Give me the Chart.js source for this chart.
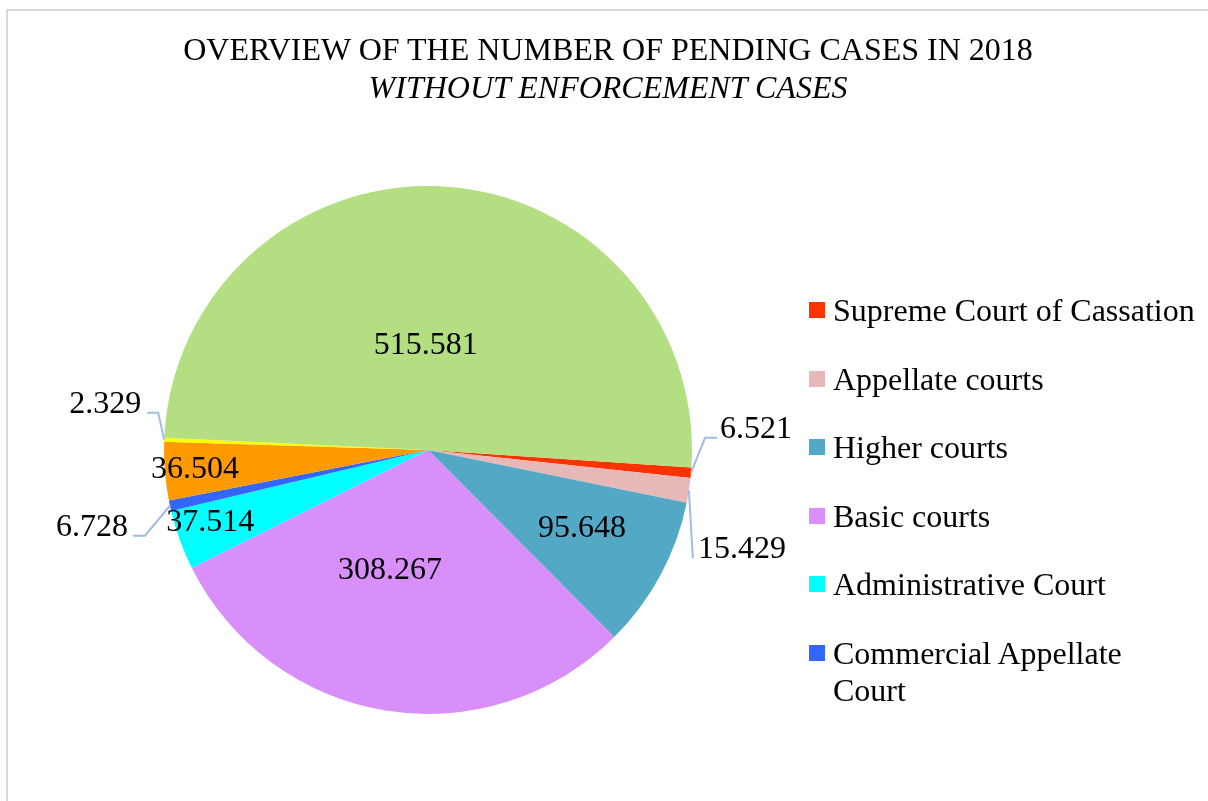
<!DOCTYPE html>
<html><head><meta charset="utf-8">
<script src="https://cdn.jsdelivr.net/npm/chart.js@4.4.1/dist/chart.umd.min.js"></script>
<style>
html,body{margin:0;padding:0;width:1208px;height:801px;overflow:hidden;background:#fff;font-family:"Liberation Serif","Times New Roman",serif;color:#000;}
#frame{position:absolute;left:6px;top:9px;width:1400px;height:1000px;border-left:2px solid #d9d9d9;border-top:2px solid #d9d9d9;}
#chartCanvas{position:absolute;left:0;top:0;}
#title{position:absolute;left:108px;width:1000px;top:31px;text-align:center;font-size:32px;line-height:37.5px;}
#title .sub{font-style:italic;}
#legend{position:absolute;left:809px;top:292px;width:390px;height:425px;overflow:hidden;}
.item{display:flex;align-items:flex-start;margin-bottom:31.5px;font-size:32px;line-height:37px;}
.sw{width:16px;height:16px;flex:none;margin-top:10px;margin-right:8px;}
</style>
</head><body>
<div id="frame"></div>
<canvas id="chartCanvas" width="1208" height="801"></canvas>
<div id="title"></div>
<div id="legend"></div>
<script>
const titleLine = "OVERVIEW OF THE NUMBER OF PENDING CASES IN 2018";
const subtitleLine = "WITHOUT ENFORCEMENT CASES";
const categories = ["Supreme Court of Cassation","Appellate courts","Higher courts","Basic courts","Administrative Court","Commercial Appellate Court","Commercial courts","Misdemeanor Appellate Court","Misdemeanor courts"];
const values = [6521, 15429, 95648, 308267, 37514, 6728, 36504, 2329, 515581];
const colors = ["#ff3300","#e6b9b8","#53a8c5","#d98ff9","#00ffff","#3366ff","#ff9900","#ffff00","#b3de81"];

// label placement: inside (polar from slice mid) or outside with leader line (offsets from arc edge at mid angle)
const labelPlacement = [
  {inside:false, leader:[[14,-35],[26,-35]], text:[65,-45]},
  {inside:false, leader:[[4,68]], text:[53,57]},
  {inside:true, turn:-1.8, r:0.652},
  {inside:true, turn:8.5, r:0.47},
  {inside:true, turn:2.1, r:0.867},
  {inside:false, leader:[[-25,30],[-37,30]], text:[-78,20]},
  {inside:true, turn:0.3, r:0.885},
  {inside:false, leader:[[-6,-27],[-17,-27]], text:[-59,-37]},
  {inside:true, turn:-4.4, r:0.405}
];

function fmt(v){ return String(v).replace(/\B(?=(\d{3})+(?!\d))/g, "."); }

document.getElementById('title').innerHTML = '<div>'+titleLine+'</div><div class="sub">'+subtitleLine+'</div>';
const lg = document.getElementById('legend');
categories.forEach((c,i)=>{
  const it=document.createElement('div'); it.className='item';
  const sw=document.createElement('div'); sw.className='sw'; sw.style.background=colors[i];
  const tx=document.createElement('div'); tx.textContent=c;
  it.appendChild(sw); it.appendChild(tx); lg.appendChild(it);
});

const FONT_PX = 32, CAP = FONT_PX*0.662;
const labelPlugin = {
  id:'sliceLabels',
  afterDatasetsDraw(chart){
    const ctx=chart.ctx; const meta=chart.getDatasetMeta(0);
    ctx.save();
    ctx.font = FONT_PX+'px "Liberation Serif"';
    ctx.fillStyle='#000'; ctx.textAlign='center'; ctx.textBaseline='alphabetic';
    meta.data.forEach((arc,i)=>{
      const p=arc.getProps(['x','y','startAngle','endAngle','outerRadius'],true);
      const mid=(p.startAngle+p.endAngle)/2;
      const pl=labelPlacement[i];
      const txt=fmt(values[i]);
      if(pl.inside){
        const a=mid+pl.turn*Math.PI/180;
        const r=p.outerRadius*pl.r;
        ctx.fillText(txt, p.x+Math.cos(a)*r, p.y+Math.sin(a)*r+CAP/2);
      } else {
        const ex=p.x+Math.cos(mid)*p.outerRadius, ey=p.y+Math.sin(mid)*p.outerRadius;
        ctx.strokeStyle='#9dbde6'; ctx.lineWidth=2;
        ctx.beginPath(); ctx.moveTo(ex,ey);
        pl.leader.forEach(([dx,dy])=>ctx.lineTo(ex+dx,ey+dy));
        ctx.stroke();
        ctx.fillText(txt, ex+pl.text[0], ey+pl.text[1]+CAP/2);
      }
    });
    ctx.restore();
  }
};

new Chart(document.getElementById('chartCanvas'), {
  type:'pie',
  data:{ labels:categories, datasets:[{ data:values, backgroundColor:colors, borderWidth:0 }] },
  options:{
    responsive:false, animation:false,
    rotation:93.8,
    layout:{ padding:{ left:164, top:186, right:516, bottom:87 } },
    plugins:{ legend:{display:false}, tooltip:{enabled:false}, title:{display:false} }
  },
  plugins:[labelPlugin]
});
</script>
</body></html>
